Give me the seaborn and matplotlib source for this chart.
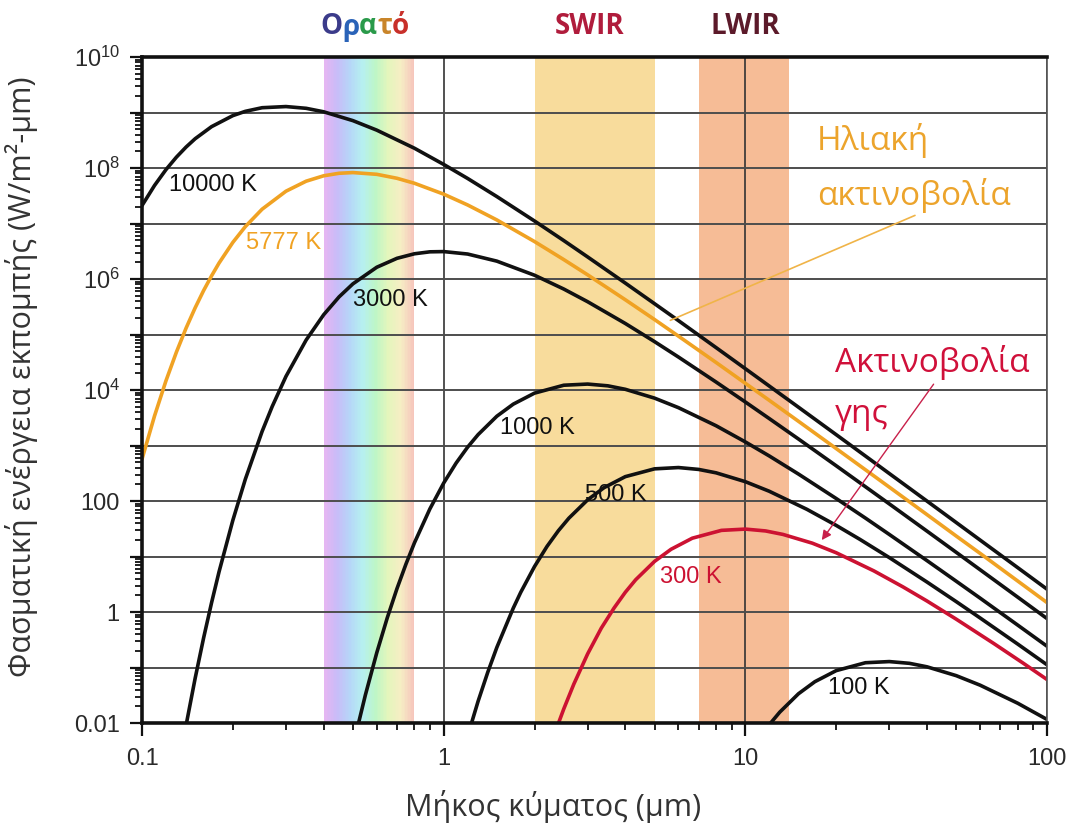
import matplotlib
matplotlib.use("Agg")
import matplotlib.pyplot as plt
import seaborn as sns
import pandas as pd
import numpy as np
from matplotlib.ticker import LogLocator, NullFormatter, FixedLocator, FixedFormatter
from matplotlib.colors import LinearSegmentedColormap

# ---------------- data ----------------
wl_10000 = [0.1, 0.11, 0.12, 0.13, 0.14, 0.15, 0.17, 0.2, 0.22, 0.25, 0.3, 0.35, 0.4, 0.5, 0.6, 0.8, 1, 1.2,
            1.5, 2, 2.5, 3, 4, 5, 6, 8, 10, 12, 15, 20, 25, 30, 40, 50, 60, 80, 100]
val_10000 = [2.11e7, 4.85e7, 9.33e7, 1.57e8, 2.39e8, 3.37e8, 5.56e8, 8.79e8, 1.05e9, 1.22e9, 1.28e9, 1.19e9,
             1.03e9, 7.14e8, 4.81e8, 2.27e8, 1.16e8, 6.49e7, 3.06e7, 1.11e7, 4.93e6, 2.50e6, 8.44e5, 3.59e5,
             1.78e5, 5.80e4, 2.42e4, 1.18e4, 4.90e3, 1.57e3, 647, 313, 99.8, 41.0, 19.8, 6.29, 2.58]

wl_5777 = [0.1, 0.11, 0.12, 0.13, 0.14, 0.15, 0.16, 0.17, 0.18, 0.2, 0.22, 0.25, 0.3, 0.35, 0.4, 0.45, 0.5, 0.6,
           0.7, 0.8, 1, 1.2, 1.5, 2, 2.5, 3, 4, 5, 6, 8, 10, 12, 15, 20, 25, 30, 40, 50, 60, 80, 100]
val_5777 = [571, 3.41e3, 1.46e4, 4.82e4, 1.31e5, 3.03e5, 6.20e5, 1.14e6, 1.94e6, 4.57e6, 8.80e6, 1.81e7,
            3.82e7, 5.79e7, 7.24e7, 8.04e7, 8.28e7, 7.70e7, 6.53e7, 5.31e7, 3.38e7, 2.16e7, 1.16e7, 4.73e6,
            2.24e6, 1.19e6, 4.23e5, 1.86e5, 9.35e4, 3.13e4, 1.32e4, 6.52e3, 2.73e3, 882, 366, 178, 56.9, 23.4,
            11.4, 3.61, 1.48]

wl_3000 = [0.14, 0.15, 0.16, 0.17, 0.18, 0.2, 0.22, 0.25, 0.27, 0.3, 0.35, 0.4, 0.45, 0.5, 0.6, 0.7, 0.8, 0.9,
           1, 1.2, 1.5, 2, 2.5, 3, 4, 5, 6, 8, 10, 12, 15, 20, 25, 30, 40, 50, 60, 80, 100]
val_3000 = [0.0092, 0.0641, 0.342, 1.47, 5.31, 45.0, 247, 1.79e3, 5.03e3, 1.76e4, 7.97e4, 2.27e5, 4.77e5,
            8.18e5, 1.63e6, 2.36e6, 2.85e6, 3.09e6, 3.12e6, 2.82e6, 2.10e6, 1.17e6, 6.60e5, 3.90e5, 1.58e5,
            7.44e4, 3.93e4, 1.39e4, 6.08e3, 3.06e3, 1.31e3, 432, 181, 88.8, 28.7, 11.9, 5.78, 1.85, 0.762]

wl_1000 = [0.5, 0.55, 0.6, 0.65, 0.7, 0.75, 0.8, 0.9, 1, 1.1, 1.2, 1.3, 1.5, 1.7, 2, 2.5, 3, 3.5, 4, 5, 6, 8,
           10, 12, 15, 20, 25, 30, 40, 50, 60, 80, 100]
val_1000 = [0.00381, 0.032, 0.185, 0.786, 2.64, 7.35, 17.7, 72.2, 211, 485, 933, 1.57e3, 3.37e3, 5.56e3,
            8.79e3, 1.22e4, 1.28e4, 1.19e4, 1.03e4, 7.14e3, 4.81e3, 2.27e3, 1.16e3, 649, 306, 111, 49.3, 25.0,
            8.44, 3.59, 1.78, 0.580, 0.242]

wl_500 = [1.2, 1.3, 1.4, 1.5, 1.7, 1.8, 2, 2.2, 2.4, 2.6, 3, 3.4, 4, 5, 6, 7, 8, 10, 12, 16, 20, 24, 30, 40,
          50, 60, 80, 100]
val_500 = [0.0058, 0.0246, 0.0824, 0.230, 1.17, 2.26, 6.60, 15.2, 29.2, 49.1, 105, 174, 275, 380, 401, 371,
           322, 223, 150, 70.8, 36.4, 20.3, 9.57, 3.47, 1.54, 0.782, 0.264, 0.112]

wl_300 = [2.4, 2.5, 2.7, 3, 3.33, 3.67, 4, 4.33, 5, 5.67, 6.67, 8.33, 10, 11.67, 13.33, 16.67, 20, 26.67,
          33.33, 40, 50, 66.67, 83.33, 100]
val_300 = [0.00985, 0.0179, 0.0503, 0.176, 0.513, 1.18, 2.27, 3.82, 8.18, 13.5, 21.4, 29.6, 31.2, 28.9, 25.0,
           17.4, 11.7, 5.51, 2.83, 1.58, 0.744, 0.270, 0.120, 0.0608]

wl_100 = [11, 12, 13, 15, 17, 20, 25, 30, 35, 40, 50, 60, 80, 100]
val_100 = [0.00485, 0.00933, 0.0157, 0.0337, 0.0556, 0.0879, 0.122, 0.128, 0.119, 0.103, 0.0714, 0.0481,
           0.0227, 0.0116]

curve_names = ["10000 K", "5777 K", "3000 K", "1000 K", "500 K", "300 K", "100 K"]
x_ticks = [0.1, 1, 10, 100]
x_tick_labels = ["0.1", "1", "10", "100"]
y_ticks = [1e-2, 1e-1, 1e0, 1e1, 1e2, 1e3, 1e4, 1e5, 1e6, 1e7, 1e8, 1e9, 1e10]
y_tick_labels = ["0.01", "", "1", "", "100", "", "10$^{4}$", "", "10$^{6}$", "", "10$^{8}$", "", "10$^{10}$"]
bands = {"Ορατό": (0.4, 0.8), "SWIR": (2, 5), "LWIR": (7, 14)}

# ---------------- style ----------------
sns.set_theme(style="white")
plt.rcParams['font.family'] = ['Open Sans', 'DejaVu Sans']
plt.rcParams['mathtext.fontset'] = 'custom'
plt.rcParams['mathtext.default'] = 'rm'
plt.rcParams['mathtext.rm'] = 'Liberation Sans'

BLACK = "#111111"
ORANGE = "#f0a223"
RED = "#cc1232"

fig = plt.figure(figsize=(10.72, 8.25), dpi=100)
ax = fig.add_axes([0.1325, 0.1236, 0.8442, 0.8073])
ax.set_xscale('log')
ax.set_yscale('log')
ax.set_xlim(0.1, 100)
ax.set_ylim(0.01, 1e10)

# spectral bands
vis_cmap = LinearSegmentedColormap.from_list(
    "vis", ['#e6b6f2', '#c8bcf8', '#b6d6f8', '#b6f0f0', '#bef6c6', '#e4f6bc', '#f6eec4', '#f6c6bc'])
lo, hi = np.log10(bands["Ορατό"][0]), np.log10(bands["Ορατό"][1])
edges = np.linspace(lo, hi, 61)
for i in range(60):
    ax.axvspan(10 ** edges[i], 10 ** edges[i + 1], color=vis_cmap(i / 59), lw=0, zorder=0)
ax.axvspan(*bands["SWIR"], color='#f8dc9c', lw=0, zorder=0)
ax.axvspan(*bands["LWIR"], color='#f6bc96', lw=0, zorder=0)

# curves
series = [(wl_10000, val_10000), (wl_5777, val_5777), (wl_3000, val_3000), (wl_1000, val_1000),
          (wl_500, val_500), (wl_300, val_300), (wl_100, val_100)]
frames = []
for name, (w, v) in zip(curve_names, series):
    frames.append(pd.DataFrame({"wl": w, "M": v, "T": name}))
df = pd.concat(frames, ignore_index=True)
palette = {n: BLACK for n in curve_names}
palette["5777 K"] = ORANGE
palette["300 K"] = RED
for name in curve_names:
    sub = df[df["T"] == name]
    sns.lineplot(data=sub, x="wl", y="M", color=palette[name], lw=2.6, ax=ax,
                 estimator=None, sort=True, legend=False, zorder=4)

# ticks & grid
ax.set_xticks(x_ticks)
ax.set_xticklabels(x_tick_labels)
ax.xaxis.set_minor_locator(LogLocator(base=10, subs=np.arange(2, 10), numticks=100))
ax.xaxis.set_minor_formatter(NullFormatter())
ax.yaxis.set_major_locator(FixedLocator(y_ticks))
ax.yaxis.set_major_formatter(FixedFormatter(y_tick_labels))
ax.yaxis.set_minor_locator(LogLocator(base=10, subs=np.arange(2, 10), numticks=100))
ax.yaxis.set_minor_formatter(NullFormatter())
ax.grid(which='major', axis='y', color='#4d4d4d', lw=1.4)
ax.grid(which='major', axis='x', color='#333333', lw=1.2)
for gl in ax.get_xgridlines() + ax.get_ygridlines():
    gl.set_zorder(1)

ax.tick_params(which='major', direction='out', length=9, width=1.6, color=BLACK,
               labelsize=17, labelcolor='#2a2a2a', left=True, bottom=True)
ax.tick_params(axis='y', which='major', pad=7)
ax.tick_params(axis='x', which='major', pad=9)
ax.tick_params(which='minor', direction='out', length=5, width=1.3, color=BLACK, left=True, bottom=True)
for lab in ax.get_xticklabels() + ax.get_yticklabels():
    lab.set_family('Liberation Sans')

for s in ['left', 'bottom', 'top']:
    ax.spines[s].set_color(BLACK)
    ax.spines[s].set_linewidth(2.6)
ax.spines['right'].set_color('#555555')
ax.spines['right'].set_linewidth(1.2)
for s in ax.spines.values():
    s.set_zorder(6)

ax.set_xlabel("Μήκος κύματος (μm)", fontsize=22, color='#333333', va='center')
ax.xaxis.set_label_coords(0.454, -0.126)
ax.set_ylabel("Φασματική ενέργεια εκπομπής (W/m²-μm)", fontsize=22, color='#333333', va='center')
ax.yaxis.set_label_coords(-0.133, 0.52)

# curve labels
lab_kw = dict(fontsize=17, family='Liberation Sans', va='center', ha='left', zorder=5)
ax.text(0.123, 4.9e7, "10000 K", color=BLACK, **lab_kw)
ax.text(0.221, 4.5e6, "5777 K", color=ORANGE, **lab_kw)
ax.text(0.50, 4.2e5, "3000 K", color=BLACK, **lab_kw)
ax.text(1.54, 2.1e3, "1000 K", color=BLACK, **lab_kw)
ax.text(2.95, 128, "500 K", color=BLACK, **lab_kw)
ax.text(5.23, 4.3, "300 K", color=RED, **lab_kw)
ax.text(18.8, 0.043, "100 K", color=BLACK, **lab_kw)

# annotations
ann_kw = dict(fontsize=24, va='center', ha='left', zorder=5)
ax.text(17.3, 10 ** 8.5, "Ηλιακή", color='#eca42c', **ann_kw)
ax.text(17.3, 10 ** 7.51, "ακτινοβολία", color='#eca42c', **ann_kw)
ax.plot([36.5, 5.64], [1.4e7, 1.8e5], color='#f0b448', lw=1.2, zorder=5)
ax.text(19.8, 10 ** 4.5, "Ακτινοβολία", color='#d0103a', **ann_kw)
ax.text(19.8, 10 ** 3.55, "γης", color='#d0103a', **ann_kw)
ax.annotate("", xy=(17.7, 18), xytext=(42.6, 1.4e4),
            arrowprops=dict(arrowstyle='-|>', color='#c8204a', lw=1.0, mutation_scale=14), zorder=5)

# band labels above the plot
top_y = 1 - 27 / 825
fig.text(590 / 1072, top_y, "SWIR", color='#b01c3c', fontsize=20, fontweight='bold', ha='center', va='center')
fig.text(745 / 1072, top_y, "LWIR", color='#5c1a2a', fontsize=20, fontweight='bold', ha='center', va='center')
fig.canvas.draw()
renderer = fig.canvas.get_renderer()
x0 = 320 / 1072
for ch, col in zip("Ορατό", ['#3b3b8a', '#2a63b8', '#2a9a4a', '#c9852a', '#c8302a']):
    t = fig.text(x0, top_y, ch, color=col, fontsize=20, fontweight='bold', ha='left', va='center')
    bb = t.get_window_extent(renderer=renderer)
    x0 += bb.width / fig.bbox.width

fig.savefig("out.png", dpi=100, facecolor='white')
